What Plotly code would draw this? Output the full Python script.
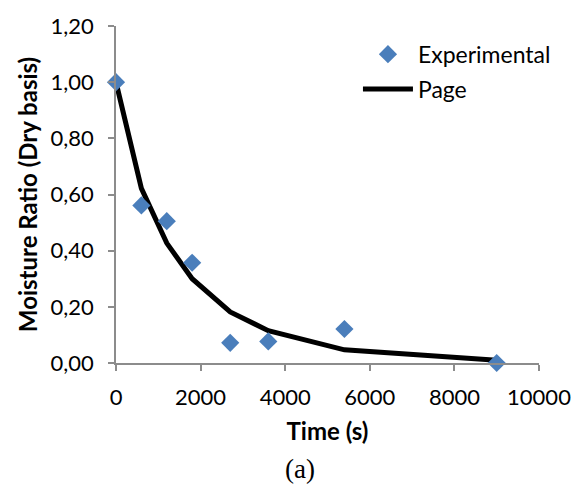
import plotly.graph_objects as go

time_s = [0, 600, 1200, 1800, 2700, 3600, 5400, 9000]
experimental = [1.00, 0.561, 0.505, 0.357, 0.072, 0.077, 0.121, 0.0]
page_model = [1.00, 0.622, 0.427, 0.30, 0.182, 0.115, 0.047, 0.01]

FONT = "Lato, Open Sans, sans-serif"

fig = go.Figure()
fig.add_trace(go.Scatter(x=time_s, y=page_model, mode="lines", name="Page", legendgroup="b", legendrank=2,
                         line=dict(color="black", width=5), cliponaxis=False))
fig.add_trace(go.Scatter(x=time_s, y=experimental, mode="markers", name="Experimental", legendgroup="a", legendrank=1,
                         marker=dict(symbol="diamond", size=14, color="#4A7EBB"), cliponaxis=False))

axis_common = dict(showgrid=False, zeroline=False, showline=True, linecolor="#8c8c8c", linewidth=1.5,
                   ticks="outside", tickcolor="#8c8c8c", ticklen=6, tickwidth=1.5,
                   tickfont=dict(family=FONT, size=22, color="black"))

fig.update_layout(
    width=583, height=488,
    margin=dict(l=116, r=36, t=23, b=125),
    plot_bgcolor="white", paper_bgcolor="white",
    separators=", ",
    xaxis=dict(range=[0, 10000], dtick=2000, tickformat="d", ticklabelstandoff=8,
               title=dict(text="<b>Time (s)</b>", font=dict(family=FONT, size=24, color="black"), standoff=14),
               **axis_common),
    yaxis=dict(range=[0, 1.2], dtick=0.2, tickformat=".2f", ticklabelstandoff=10,
               title=dict(text="<b>Moisture Ratio (Dry basis)</b>", font=dict(family=FONT, size=24, color="black"), standoff=6),
               **axis_common),
    legend=dict(x=0.572, y=0.98, xanchor="left", yanchor="top", bgcolor="rgba(0,0,0,0)",
                font=dict(family=FONT, size=23, color="black"), itemwidth=50, tracegroupgap=2,
                traceorder="grouped"),
    showlegend=True,
)
fig.add_annotation(text="(a)", xref="paper", yref="paper", x=0.435, y=-0.315, xanchor="center", yanchor="middle",
                   showarrow=False, font=dict(family="Liberation Serif, Times New Roman, serif", size=27, color="black"))

fig.write_html("out.html")
